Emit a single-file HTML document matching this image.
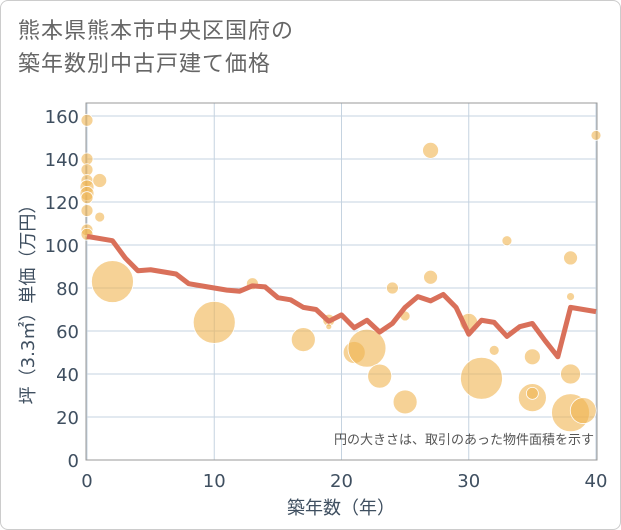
<!DOCTYPE html>
<html><head><meta charset="utf-8"><style>
body{margin:0;background:#fff;font-family:"DejaVu Sans","Noto Sans CJK JP",sans-serif;}
#card{position:absolute;left:0;top:0;width:619px;height:528px;border:1px solid #ccc;border-radius:8px;background:#fff;}
#title{position:absolute;left:18px;top:14px;font-size:22px;line-height:33px;color:#666;letter-spacing:1px;font-family:"Liberation Sans","Noto Sans CJK JP",sans-serif;}
</style></head><body>
<div id="card"></div>
<div id="title">熊本県熊本市中央区国府の<br>築年数別中古戸建て価格</div>
<svg id="chart" width="621" height="530" style="position:absolute;left:0;top:0"></svg>
<script>
const xTicks=[0,10,20,30,40];
const yTicks=[0,20,40,60,80,100,120,140,160];
const lineYears=[0,2,3,4,5,6,7,8,9,10,11,12,13,14,15,16,17,18,19,20,21,22,23,24,25,26,27,28,29,30,31,32,33,34,35,36,37,38,39,40];
const lineValues=[104,102,94,88,88.5,87.5,86.5,82,81,80,79,78.5,81,80.5,75.5,74.5,71,70,64.5,67.5,61.5,65,59.5,63.5,71,76,74,77,71,58.5,65,64,57.5,62,63.5,55.5,48,71,70,69];
const bubbleYears=[0,0,0,0,0,0,0,0,0,0,1,1,2,10,13,17,19,19,21,22,23,24,25,25,27,27,30,31,32,33,35,35,35,38,38,38,38,39,40];
const bubbleValues=[158,140,135,130,127,124,122,116,107,105,130,113,83,64,82,56,65,62,50,52,39,80,67,27,144,85,64,38,51,102,48,29,31,94,76,40,22,23,151];
const bubbleSizes=[6,6,6,6,7,7,6,6,6,6,7,5,21,21,6,12,6,3,11,19,12,6,5,12,8,7,9,21,5,5,8,14,6,7,4,10,19,13,5];
const X0=87,X1=596,Y0=460,Y1=116,L=86,R=597,T=103;
const xs=v=>X0+(v-0)/40*(X1-X0);
const ys=v=>Y0-(v/160)*(Y0-Y1);
const svg=document.getElementById('chart');const NS='http://www.w3.org/2000/svg';
const TC='#3f4f60';
function mk(t,a,p){const e=document.createElementNS(NS,t);for(const k in a)e.setAttribute(k,a[k]);(p||svg).appendChild(e);return e;}
const grid=mk('g',{});
yTicks.forEach(v=>{mk('line',{x1:L,x2:R,y1:ys(v),y2:ys(v),stroke:'#c5d3e0','stroke-width':1},grid);
const t=mk('text',{x:79,y:ys(v)+7,'text-anchor':'end','font-size':18,fill:TC});t.textContent=v;
});
xTicks.forEach(v=>{mk('line',{x1:xs(v),x2:xs(v),y1:T,y2:Y0,stroke:'#c5d3e0','stroke-width':1},grid);
const t=mk('text',{x:xs(v),y:487,'text-anchor':'middle','font-size':18,fill:TC});t.textContent=v;
});
const fr=mk('rect',{x:L,y:T,width:R-L,height:Y0-T,fill:'none',stroke:'#999','stroke-width':1});

const bg=mk('g',{});
bubbleYears.forEach((yr,i)=>{const c=mk('circle',{cx:xs(yr),cy:ys(bubbleValues[i]),r:bubbleSizes[i],fill:'rgba(240,180,80,0.6)',stroke:'#fff','stroke-width':0.8},bg);
});
const pl=mk('polyline',{points:lineYears.map((y,i)=>xs(y)+','+ys(lineValues[i])).join(' '),fill:'none',stroke:'#d9705a','stroke-width':5,'stroke-linejoin':'round'});

const note=mk('text',{x:594,y:444,'text-anchor':'end','font-size':13,fill:'#555','font-family':'"Liberation Sans","Noto Sans CJK JP",sans-serif'});note.textContent='円の大きさは、取引のあった物件面積を示す';

const xt=mk('text',{x:341,y:514,'text-anchor':'middle','font-size':18,fill:TC});xt.textContent='築年数（年）';

const yt=mk('text',{x:0,y:0,'text-anchor':'middle','font-size':18,fill:TC,transform:'translate(34,300) rotate(-90)'});yt.textContent='坪（3.3㎡）単価（万円）';

</script>
</body></html>
